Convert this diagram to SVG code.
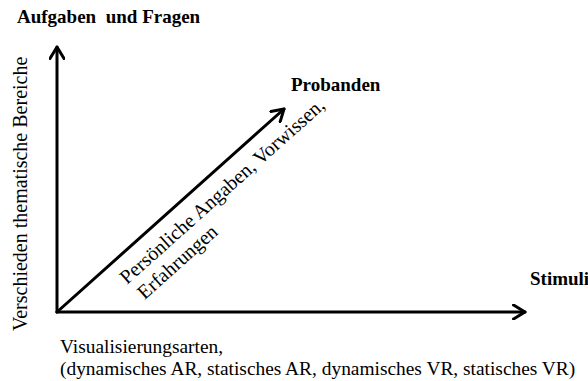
<svg xmlns="http://www.w3.org/2000/svg" width="588" height="381" viewBox="0 0 588 381">
<style>
.ax{stroke:#000;stroke-width:3;fill:none;stroke-linecap:round;stroke-linejoin:round}
.b{font-family:"Liberation Serif","Times New Roman",serif;font-weight:bold;font-size:19px;fill:#000;white-space:pre}
.r{font-family:"Liberation Serif","Times New Roman",serif;font-size:20px;fill:#000}
.s{font-size:19.4px}
</style>
<defs>
<marker id="ah" viewBox="0 0 16 16" refX="13" refY="8" markerWidth="16" markerHeight="16" markerUnits="userSpaceOnUse" orient="auto">
<path d="M1.5,1 L13,8 L1.5,15" fill="none" stroke="#000" stroke-width="3" stroke-linecap="round" stroke-linejoin="round"/>
</marker>
</defs>
<rect width="588" height="381" fill="#fff"/>
<g id="connectors">
<line class="ax" x1="57" y1="312" x2="57" y2="47" marker-end="url(#ah)"/>
<line class="ax" x1="57" y1="312" x2="525" y2="312" marker-end="url(#ah)"/>
<line class="ax" x1="57" y1="312" x2="284" y2="109" marker-end="url(#ah)"/>
</g>
<g id="node-aufgaben"><text class="b" x="17" y="23">Aufgaben  und Fragen</text></g>
<g id="node-bereiche"><text class="r" transform="translate(27,331) rotate(-90)">Verschieden thematische Bereiche</text></g>
<g id="node-probanden"><text class="b" x="291" y="91">Probanden</text></g>
<g id="node-stimuli"><text class="b" x="530" y="285">Stimuli</text></g>
<g id="node-persoenlich"><text class="r" transform="translate(127,285) rotate(-41.8)"><tspan x="0" y="0">Persönliche Angaben, Vorwissen,</tspan><tspan x="3" y="23">Erfahrungen</tspan></text></g>
<g id="node-visual"><text class="r s"><tspan x="60" y="353">Visualisierungsarten,</tspan><tspan x="60" y="375">(dynamisches AR, statisches AR, dynamisches VR, statisches VR)</tspan></text></g>
</svg>
